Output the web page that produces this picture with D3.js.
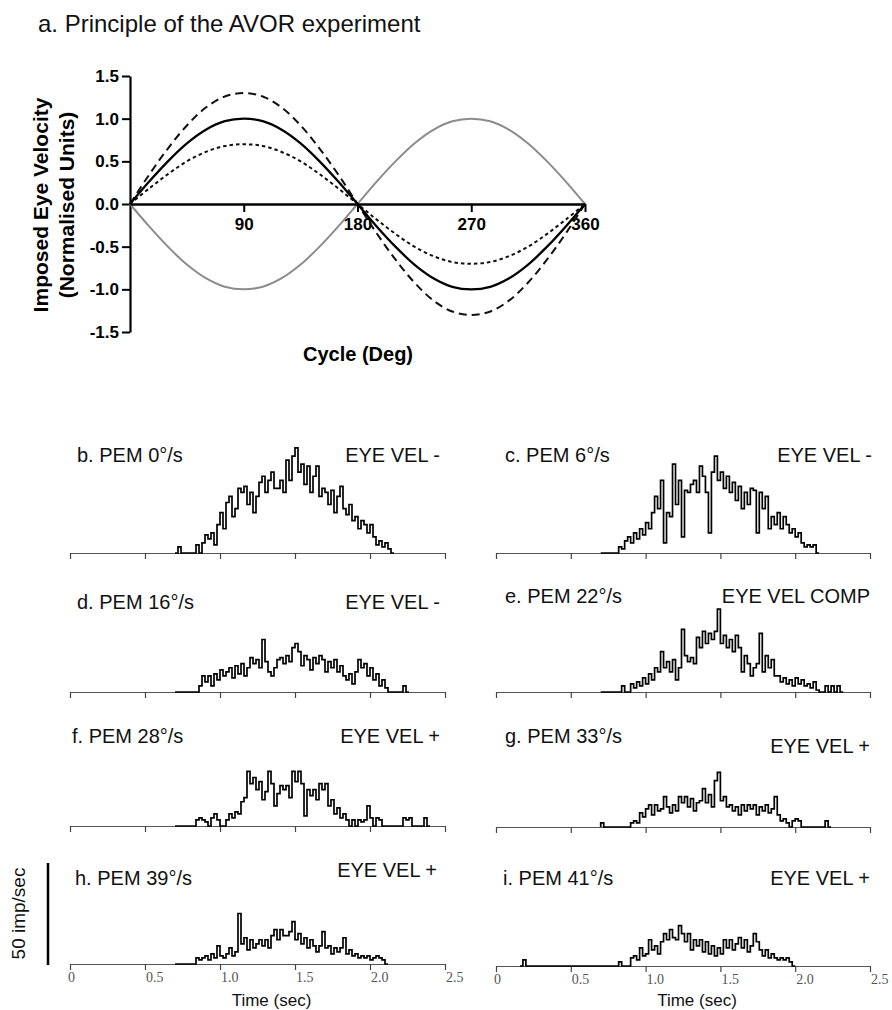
<!DOCTYPE html>
<html><head><meta charset="utf-8">
<script src="https://cdn.jsdelivr.net/npm/d3@7"></script>
<style>body{margin:0;background:#fff}svg{display:block}</style>
</head><body>
<svg id="chart" width="892" height="1010"></svg>
<script>
// ---------- DATA ----------
const cycleDeg = [0,15,30,45,60,75,90,105,120,135,150,165,180,195,210,225,240,255,270,285,300,315,330,345,360];
const eyeVelGain10 = [0,0.26,0.5,0.71,0.87,0.97,1,0.97,0.87,0.71,0.5,0.26,0,-0.26,-0.5,-0.71,-0.87,-0.97,-1,-0.97,-0.87,-0.71,-0.5,-0.26,0];
const eyeVelGain13 = [0,0.34,0.65,0.92,1.13,1.26,1.3,1.26,1.13,0.92,0.65,0.34,0,-0.34,-0.65,-0.92,-1.13,-1.26,-1.3,-1.26,-1.13,-0.92,-0.65,-0.34,0];
const eyeVelGain07 = [0,0.18,0.35,0.5,0.61,0.68,0.7,0.68,0.61,0.5,0.35,0.18,0,-0.18,-0.35,-0.5,-0.61,-0.68,-0.7,-0.68,-0.61,-0.5,-0.35,-0.18,0];
const headVel = [0,-0.26,-0.5,-0.71,-0.87,-0.97,-1,-0.97,-0.87,-0.71,-0.5,-0.26,0,0.26,0.5,0.71,0.87,0.97,1,0.97,0.87,0.71,0.5,0.26,0];
const yTicksTop = [-1.5,-1,-0.5,0,0.5,1,1.5];
const xTicksTop = [90,180,270,360];

const timeTicks = [0,0.5,1,1.5,2,2.5];
const timeTickLabels = ["0","0.5","1.0","1.5","2.0","2.5"];
const panelLabels = ["b. PEM 0°/s","c. PEM 6°/s","d. PEM 16°/s","e. PEM 22°/s","f. PEM 28°/s","g. PEM 33°/s","h. PEM 39°/s","i. PEM 41°/s"];
const eyeLabels = ["EYE VEL -","EYE VEL -","EYE VEL -","EYE VEL COMP","EYE VEL +","EYE VEL +","EYE VEL +","EYE VEL +"];
const binWidth = 0.02; // sec
const binStarts = [0.70,0.70,0.70,0.70,0.70,0.70,0.70,0.16];
const ratesB = [0,3,0,0,0,0,0,4,0,5, 9,7,10,4,14,20,12,25,28,18, 22,32,30,33,24,30,20,28,35,38, 30,36,40,32,32,36,30,46,36,48, 52,40,44,34,43,30,38,43,28,32, 30,24,31,20,28,33,22,19,24,16, 18,12,16,14,10,14,8,4,6,3, 5,2,0];
const ratesC = [0,0,0,0,0,0,3,2,6,8, 5,10,7,12,9,15,12,20,28,22, 36,5,20,18,44,24,36,8,31,30, 34,36,30,43,38,30,10,40,48,36, 40,32,38,30,35,26,33,22,30,24, 32,31,10,30,22,28,12,18,14,20, 12,18,14,10,12,8,10,5,3,4, 3,4,0];
const ratesD = [0,0,0,0,0,0,0,0,3,8, 5,8,3,9,6,11,8,10,12,7, 13,9,14,8,12,17,14,16,12,26, 15,10,8,12,16,17,14,18,15,22, 24,20,13,18,16,11,17,14,18,16, 10,15,12,16,10,13,8,6,9,4, 10,16,12,14,8,12,6,9,3,6, 2,0,0,0,0,0,3,0];
const ratesE = [0,0,0,0,0,0,0,3,0,0, 4,2,5,3,7,4,9,6,12,10, 20,12,15,10,16,6,12,31,18,15, 17,14,27,22,30,24,29,26,30,41, 24,28,22,26,20,28,22,10,18,14, 8,12,14,29,10,18,12,16,8,8, 5,7,4,6,3,7,4,6,3,4, 2,5,1,0,0,3,0,3,0,3,0];
const ratesF = [0,0,0,0,0,0,0,3,4,3, 2,0,4,6,3,0,0,3,6,4, 7,6,12,14,27,21,24,18,22,13, 17,27,21,10,16,20,18,20,14,27, 22,27,21,5,18,15,18,13,21,18, 21,10,13,6,9,4,6,3,0,3, 0,3,2,3,10,4,0,4,3,0, 0,0,0,0,0,0,4,3,4,0, 0,0,0,4,0];
const ratesG = [2,0,0,0,0,0,0,0,0,0, 2,3,2,7,5,9,11,6,11,8, 9,15,10,7,11,8,15,12,15,10, 14,8,12,13,19,12,16,10,23,27, 13,15,10,11,8,10,6,11,8,11, 9,11,6,10,8,11,7,9,15,6, 3,4,2,0,3,4,3,0,0,0, 0,0,0,0,0,3,0];
const ratesH = [0,0,0,0,0,0,0,3,2,3, 4,2,5,3,9,4,3,5,8,4, 6,25,10,13,7,12,8,10,12,9, 12,8,14,17,12,17,14,14,16,21, 12,15,10,13,8,12,9,6,9,16, 8,9,5,8,6,8,13,5,7,4, 5,3,4,3,4,2,3,4,3,2,0];
const ratesI = [0,3,0,0,0,0,0,0,0,0,0,0,0,0,0,0,0,0,0,0,0,0,0,0,0,0,0,0,0,0,0,0,0, 2,0,0,0,4,5,3,9,5,6, 13,8,10,6,12,16,13,18,14,13, 20,16,12,16,8,13,10,13,7,12, 6,10,5,9,6,13,9,13,8,11, 14,9,13,7,10,16,12,8,5,8, 4,6,4,3,4,3,4,2,0];
const panelRates = [ratesB,ratesC,ratesD,ratesE,ratesF,ratesG,ratesH,ratesI];
const scaleBarValue = 50; // imp/sec

// ---------- LAYOUT ----------
const svg = d3.select("#chart");
const SANS = "'Liberation Sans', Arial, sans-serif";
const SERIF = "'Liberation Serif', 'Times New Roman', serif";

// ----- Panel a -----
svg.append("text").attr("x",38).attr("y",32).attr("font-family",SANS).attr("font-size",24)
  .attr("fill","#111").text("a. Principle of the AVOR experiment");

const xA = d3.scaleLinear().domain([0,360]).range([130,585]);
const yA = d3.scaleLinear().domain([-1.5,1.5]).range([332,76]);

const gA = svg.append("g");
const yAxisA = d3.axisLeft(yA).tickValues(yTicksTop).tickFormat(d=>d.toFixed(1)).tickSize(8).tickSizeOuter(0).tickPadding(3);
const gy = gA.append("g").attr("transform",`translate(${xA(0)},0)`).call(yAxisA);
gy.select(".domain").attr("stroke","#000").attr("stroke-width",2.2);
gy.selectAll(".tick line").attr("stroke","#000").attr("stroke-width",2);
gy.selectAll(".tick text").attr("font-family",SANS).attr("font-size",17).attr("font-weight","bold").attr("fill","#000");

const lineA = d3.line().x((d,i)=>xA(cycleDeg[i])).y(d=>yA(d)).curve(d3.curveCatmullRom);
gA.append("path").attr("d",lineA(headVel)).attr("fill","none").attr("stroke","#8c8c8c").attr("stroke-width",2);

const xAxisA = d3.axisBottom(xA).tickValues(xTicksTop).tickFormat(d3.format("d")).tickSize(8).tickSizeOuter(0).tickPadding(6);
const gx = gA.append("g").attr("transform",`translate(0,${yA(0)})`).call(xAxisA);
gx.select(".domain").attr("stroke","#000").attr("stroke-width",2.5);
gx.selectAll(".tick line").attr("stroke","#000").attr("stroke-width",2);
gx.selectAll(".tick text").attr("font-family",SANS).attr("font-size",17).attr("font-weight","bold").attr("fill","#000");

gA.append("path").attr("d",lineA(eyeVelGain13)).attr("fill","none").attr("stroke","#111").attr("stroke-width",2).attr("stroke-dasharray","8,5");
gA.append("path").attr("d",lineA(eyeVelGain07)).attr("fill","none").attr("stroke","#111").attr("stroke-width",2).attr("stroke-dasharray","3.5,3");
gA.append("path").attr("d",lineA(eyeVelGain10)).attr("fill","none").attr("stroke","#000").attr("stroke-width",2.3);

gA.append("text").attr("transform","translate(48,205) rotate(-90)").attr("text-anchor","middle")
  .attr("font-family",SANS).attr("font-size",21).attr("font-weight","bold").text("Imposed Eye Velocity");
gA.append("text").attr("transform","translate(74,205) rotate(-90)").attr("text-anchor","middle")
  .attr("font-family",SANS).attr("font-size",21).attr("font-weight","bold").text("(Normalised Units)");
gA.append("text").attr("x",358).attr("y",361).attr("text-anchor","middle")
  .attr("font-family",SANS).attr("font-size",20).attr("font-weight","bold").text("Cycle (Deg)");

// ----- Histogram panels -----
const colRange = [[70,445],[496,870]];
const layout = [
  {col:0, base:553, labX:77, labY:462, eyeX:440, eyeY:462},
  {col:1, base:553, labX:505, labY:462, eyeX:872, eyeY:462},
  {col:0, base:692, labX:77, labY:609, eyeX:440, eyeY:609},
  {col:1, base:692, labX:505, labY:603, eyeX:870, eyeY:603},
  {col:0, base:826, labX:72, labY:743, eyeX:440, eyeY:743},
  {col:1, base:827, labX:505, labY:743, eyeX:870, eyeY:753},
  {col:0, base:964, labX:75, labY:885, eyeX:437, eyeY:877},
  {col:1, base:966, labX:503, labY:885, eyeX:870, eyeY:885}
];
const pxPerRate = 101/50;

layout.forEach((L,p)=>{
  const g = svg.append("g");
  const x = d3.scaleLinear().domain([0,2.5]).range(colRange[L.col]);
  const y = d3.scaleLinear().domain([0,50]).range([L.base, L.base-50*pxPerRate]);
  const ax = d3.axisBottom(x).tickValues(timeTicks).tickSize(6).tickSizeOuter(0).tickFormat("");
  const ga = g.append("g").attr("transform",`translate(0,${L.base})`).call(ax);
  ga.select(".domain").attr("stroke","#555").attr("stroke-width",1.2);
  ga.selectAll(".tick line").attr("stroke","#444").attr("stroke-width",1.2);
  if (p >= 6) {
    g.selectAll(".tlab").data(timeTicks).enter().append("text")
      .attr("x",(d,i)=> x(d) + (i===0 ? -2 : 1)).attr("y",L.base+18)
      .attr("font-family",SERIF).attr("font-size",14).attr("fill","#555")
      .text((d,i)=>timeTickLabels[i]);
    g.append("text").attr("x",(colRange[L.col][0]+colRange[L.col][1])/2+14).attr("y",1006)
      .attr("text-anchor","middle").attr("font-family",SANS).attr("font-size",17).attr("fill","#111").text("Time (sec)");
  }
  const rates = panelRates[p];
  const pts = rates.map((r,i)=>[binStarts[p]+i*binWidth, r]);
  const tEnd = binStarts[p]+rates.length*binWidth;
  pts.push([tEnd, 0]);
  pts.unshift([binStarts[p],0]);
  const line = d3.line().x(d=>x(d[0])).y(d=>y(d[1])).curve(d3.curveStepAfter);
  g.append("path").attr("d",line(pts)).attr("fill","none").attr("stroke","#000").attr("stroke-width",1.7);
  g.append("text").attr("x",L.labX).attr("y",L.labY).attr("font-family",SANS).attr("font-size",20).attr("fill","#111").text(panelLabels[p]);
  g.append("text").attr("x",L.eyeX).attr("y",L.eyeY).attr("text-anchor","end").attr("font-family",SANS).attr("font-size",20).attr("fill","#111").text(eyeLabels[p]);
  if (p === 6) {
    g.append("line").attr("x1",48).attr("x2",48).attr("y1",y(0)+1).attr("y2",y(scaleBarValue)).attr("stroke","#000").attr("stroke-width",2.5);
    g.append("text").attr("transform",`translate(25,${(y(0)+y(scaleBarValue))/2}) rotate(-90)`).attr("text-anchor","middle")
      .attr("font-family",SANS).attr("font-size",19).attr("fill","#111").text("50 imp/sec");
  }
});
</script>
</body></html>
